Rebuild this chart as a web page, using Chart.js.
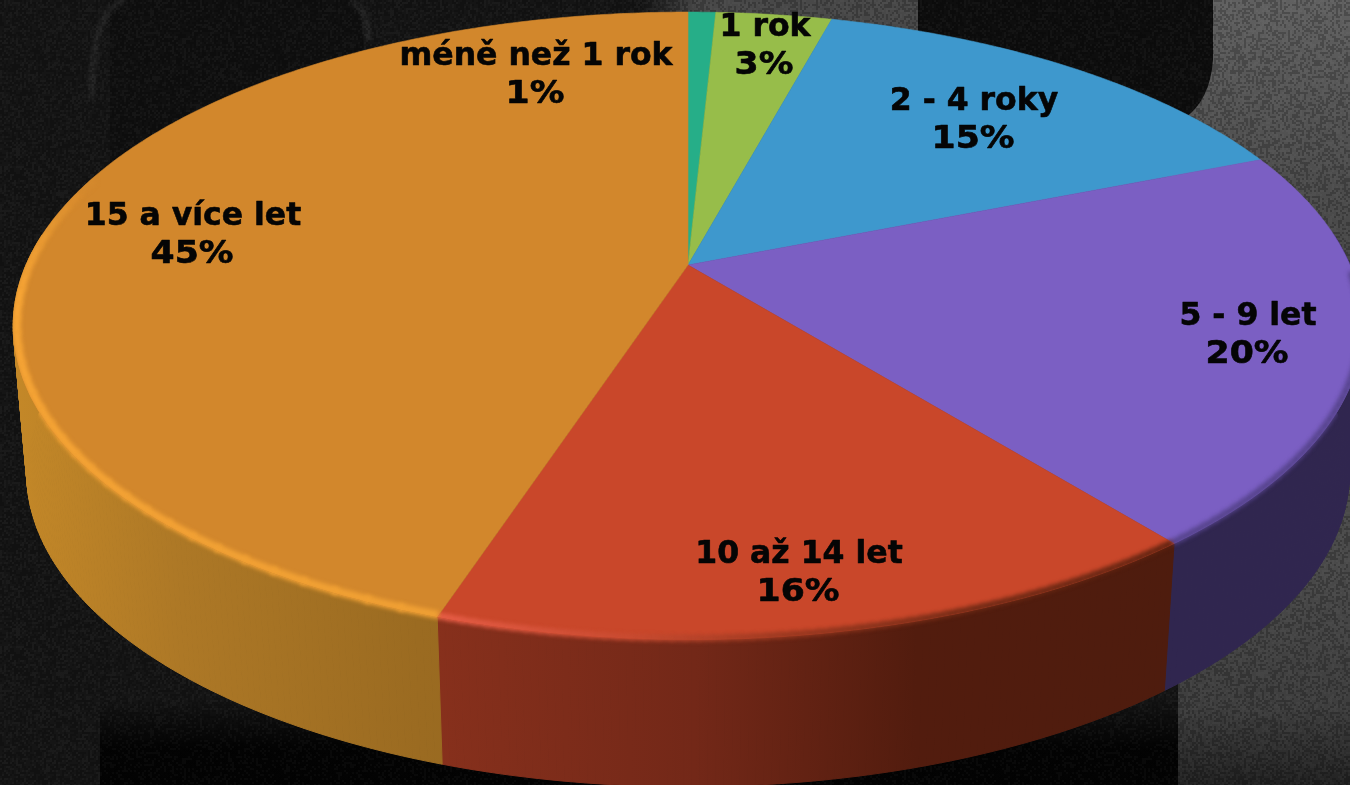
<!DOCTYPE html>
<html lang="cs"><head><meta charset="utf-8">
<style>html,body{margin:0;padding:0;background:#111;overflow:hidden}canvas{display:block}</style>
<script src="https://cdn.jsdelivr.net/npm/chart.js@4"></script>
</head><body><canvas id="c" width="1350" height="785"></canvas>
<script>
const categories = ["méně než 1 rok","1 rok","2 - 4 roky","5 - 9 let","10 až 14 let","15 a více let"];
const shares = [0.8,3.35,14.75,20.4,15.7,45];
const faceColors = ["#26ae88","#97bd4a","#3e98cd","#7b5fc3","#c9472a","#d2872c"];
const wallStops = [
  [[0,"#1a6a52"],[1,"#1a6a52"]],
  [[0,"#5c7430"],[1,"#5c7430"]],
  [[0,"#265d7e"],[1,"#265d7e"]],
  [[0,"#30264f"],[1,"#30264f"]],
  [[0,"#87301c"],[0.35,"#732818"],[0.65,"#521c0e"],[1,"#4e1c0e"]],
  [[0,"#c48828"],[0.25,"#ad7826"],[0.6,"#9b6b21"],[1,"#8e641e"]]
];
const labelAnchors = [[536,57],[765,28],[974,102],[1248,317],[799,555],[193,217]];
const LINE_GAP = 38;
const cx=688, cy=265, A=662, B=302, K=0.194, WALL=147, SHRINK=0.98;
function topPt(a,r=1){const u=r*Math.cos(a),v=r*Math.sin(a),w=1-K*v;return [cx+A*u/w,cy+B*v/w];}
function lowPt(a){const p=topPt(a);return [cx+SHRINK*(p[0]-cx),p[1]+WALL];}
function arcPts(fn,a0,a1){const n=Math.max(2,Math.ceil(Math.abs(a1-a0)/0.01));const r=[];for(let i=0;i<=n;i++)r.push(fn(a0+(a1-a0)*i/n));return r;}
function hash(x,y){const s=Math.sin(x*127.1+y*311.7)*43758.5453;return s-Math.floor(s);}
function noiseTile(){const t=document.createElement('canvas');t.width=t.height=240;const g=t.getContext('2d');
  for(let y=0;y<120;y++)for(let x=0;x<120;x++){const h=hash(x,y);
    g.fillStyle=h<0.4?'rgba(0,0,0,0.2)':h>0.75?'rgba(255,255,255,0.025)':'rgba(0,0,0,0)';g.fillRect(x*2,y*2,2,2);}
  return t;}
function drawBackground(ctx){
  ctx.fillStyle='#151515';ctx.fillRect(0,0,1350,785);
  let g=ctx.createLinearGradient(640,0,700,0);g.addColorStop(0,'#151515');g.addColorStop(1,'#484848');
  ctx.fillStyle=g;ctx.fillRect(640,0,280,40);
  ctx.fillStyle='#0e0e0e';ctx.beginPath();ctx.moveTo(918,0);ctx.lineTo(1213,0);ctx.lineTo(1213,60);ctx.quadraticCurveTo(1210,100,1190,118);ctx.lineTo(918,118);ctx.closePath();ctx.fill();
  g=ctx.createLinearGradient(0,0,0,420);g.addColorStop(0,'#606060');g.addColorStop(0.45,'#4c4c4c');g.addColorStop(1,'#3e3e3e');
  ctx.fillStyle=g;ctx.beginPath();ctx.moveTo(1213,0);ctx.lineTo(1350,0);ctx.lineTo(1350,420);ctx.lineTo(1100,420);ctx.lineTo(1185,118);ctx.quadraticCurveTo(1210,100,1213,60);ctx.closePath();ctx.fill();
  g=ctx.createLinearGradient(0,560,0,785);g.addColorStop(0,'#4a4a4a');g.addColorStop(0.65,'#3e3e3e');g.addColorStop(1,'#222222');
  ctx.fillStyle=g;ctx.fillRect(1178,420,172,365);
  ctx.fillStyle='#101010';ctx.beginPath();ctx.moveTo(110,0);ctx.lineTo(360,0);ctx.lineTo(370,150);ctx.lineTo(110,190);ctx.closePath();ctx.fill();
  ctx.save();ctx.filter='blur(2px)';ctx.strokeStyle='rgba(255,255,255,0.07)';ctx.lineWidth=6;
  ctx.beginPath();ctx.moveTo(92,100);ctx.quadraticCurveTo(90,10,125,0);ctx.stroke();
  ctx.beginPath();ctx.moveTo(368,40);ctx.quadraticCurveTo(368,10,350,0);ctx.stroke();
  ctx.restore();
  g=ctx.createLinearGradient(0,700,0,785);g.addColorStop(0,'rgba(0,0,0,0)');g.addColorStop(0.55,'rgba(0,0,0,0.85)');g.addColorStop(1,'rgba(0,0,0,0.85)');
  ctx.fillStyle=g;ctx.fillRect(100,700,1078,85);
  ctx.fillStyle=ctx.createPattern(noiseTile(),'repeat');ctx.fillRect(0,0,1350,785);
}
function mix(c1,c2,t){const p=h=>[1,3,5].map(i=>parseInt(h.substr(i,2),16));const a=p(c1),b=p(c2);return 'rgb('+a.map((x,i)=>Math.round(x+(b[i]-x)*t)).join(',')+')';}
function ramp(stops,t){for(let i=1;i<stops.length;i++){if(t<=stops[i][0]){return mix(stops[i-1][1],stops[i][1],(t-stops[i-1][0])/(stops[i][0]-stops[i-1][0]));}}return stops[stops.length-1][1];}
const rimRamps={
  5:[[0,"#f0a034"],[0.4,"#f8a636"],[0.46,"#ec9c33"],[0.54,"#d2872c"],[1,"#d2872c"]],
  4:[[0,"#5c2210"],[0.3,"#6a2814"],[0.55,"#96371f"],[0.75,"#c94c32"],[1,"#ea604a"]],
  3:[[0,"#544289"],[1,"#544289"]]
};
const rimWidths={5:8,4:6,3:6};
const pie3d={id:'pie3d',
  beforeDatasetsDraw(chart){
    const ctx=chart.ctx,arcs=chart.getDatasetMeta(0).data;
    ctx.save();
    drawBackground(ctx);
    const outline=new Path2D();
    arcs.forEach((el,i)=>{
      const t=arcPts(topPt,el.startAngle,el.endAngle),l=arcPts(lowPt,el.startAngle,el.endAngle);
      const xs=t.concat(l).map(p=>p[0]);const gx0=Math.min(...xs),gx1=Math.max(...xs);
      const g=ctx.createLinearGradient(gx0,0,gx1,0);
      wallStops[i].forEach(s=>g.addColorStop(s[0],s[1]));
      ctx.fillStyle=g;ctx.strokeStyle=g;ctx.lineWidth=1;
      const n=t.length-1;
      for(let j=0;j<n;j++){
        const a=el.startAngle+(el.endAngle-el.startAngle)*(j+0.5)/n;
        if(Math.sin(a)<-0.1)continue;
        const q=new Path2D();q.moveTo(t[j][0],t[j][1]);q.lineTo(t[j+1][0],t[j+1][1]);q.lineTo(l[j+1][0],l[j+1][1]);q.lineTo(l[j][0],l[j][1]);q.closePath();
        ctx.fill(q);ctx.stroke(q);
        outline.addPath(q);
      }
    });
    arcs.forEach((el,i)=>{
      const pts=arcPts(topPt,el.startAngle,el.endAngle);
      const face=new Path2D();face.moveTo(cx,cy);pts.forEach(p=>face.lineTo(p[0],p[1]));face.closePath();
      ctx.fillStyle=faceColors[i];ctx.strokeStyle=faceColors[i];ctx.lineWidth=0.6;
      ctx.fill(face);ctx.stroke(face);
    });
    const mask=document.createElement('canvas');mask.width=1350;mask.height=785;const m=mask.getContext('2d');
    m.fillStyle='#000';m.fill(outline);
    arcs.forEach(el=>{m.beginPath();m.moveTo(cx,cy);arcPts(topPt,el.startAngle,el.endAngle).forEach(p=>m.lineTo(p[0],p[1]));m.closePath();m.fill();});
    const rim=document.createElement('canvas');rim.width=1350;rim.height=785;const r=rim.getContext('2d');
    r.filter='blur(2px)';r.lineCap='butt';
    arcs.forEach((el,i)=>{
      if(!rimRamps[i])return;
      r.lineWidth=rimWidths[i];
      for(let s=0;s<60;s++){
        const t0=s/60,t1=(s+1.15)/60;
        const a0=el.startAngle+(el.endAngle-el.startAngle)*t0,a1=el.startAngle+(el.endAngle-el.startAngle)*Math.min(1,t1);
        if(i!==5&&Math.sin((a0+a1)/2)<0.02)continue;
        if(i===5&&t0>0.54)continue;
        r.strokeStyle=ramp(rimRamps[i],t0);
        r.beginPath();arcPts(a=>topPt(a,i===5?0.995:0.997),a0,a1).forEach((p,j)=>j?r.lineTo(p[0],p[1]):r.moveTo(p[0],p[1]));r.stroke();
      }
    });
    r.filter='none';r.globalCompositeOperation='destination-in';r.drawImage(mask,0,0);
    ctx.drawImage(rim,0,0);
    ctx.restore();
    return false;
  },
  afterDraw(chart){
    const ctx=chart.ctx;ctx.save();
    ctx.fillStyle='#050505';ctx.strokeStyle='#050505';ctx.lineWidth=0.6;ctx.lineJoin='round';
    ctx.font='bold 31.5px "DejaVu Sans"';ctx.textAlign='center';ctx.textBaseline='middle';
    categories.forEach((c,i)=>{const a=labelAnchors[i];
      ctx.fillText(c,a[0],a[1]);ctx.strokeText(c,a[0],a[1]);
      const pct=Math.round(shares[i])+'%';
      ctx.save();ctx.translate(a[0]-1,a[1]+LINE_GAP);ctx.scale(1.1,1);
      ctx.fillText(pct,0,0);ctx.strokeText(pct,0,0);ctx.restore();});
    ctx.restore();
  }
};
new Chart(document.getElementById('c'),{type:'pie',
  data:{labels:categories,datasets:[{data:shares,backgroundColor:faceColors,borderWidth:0}]},
  options:{responsive:false,animation:false,rotation:0,events:[],plugins:{legend:{display:false},tooltip:{enabled:false}}},
  plugins:[pie3d]});
</script></body></html>
